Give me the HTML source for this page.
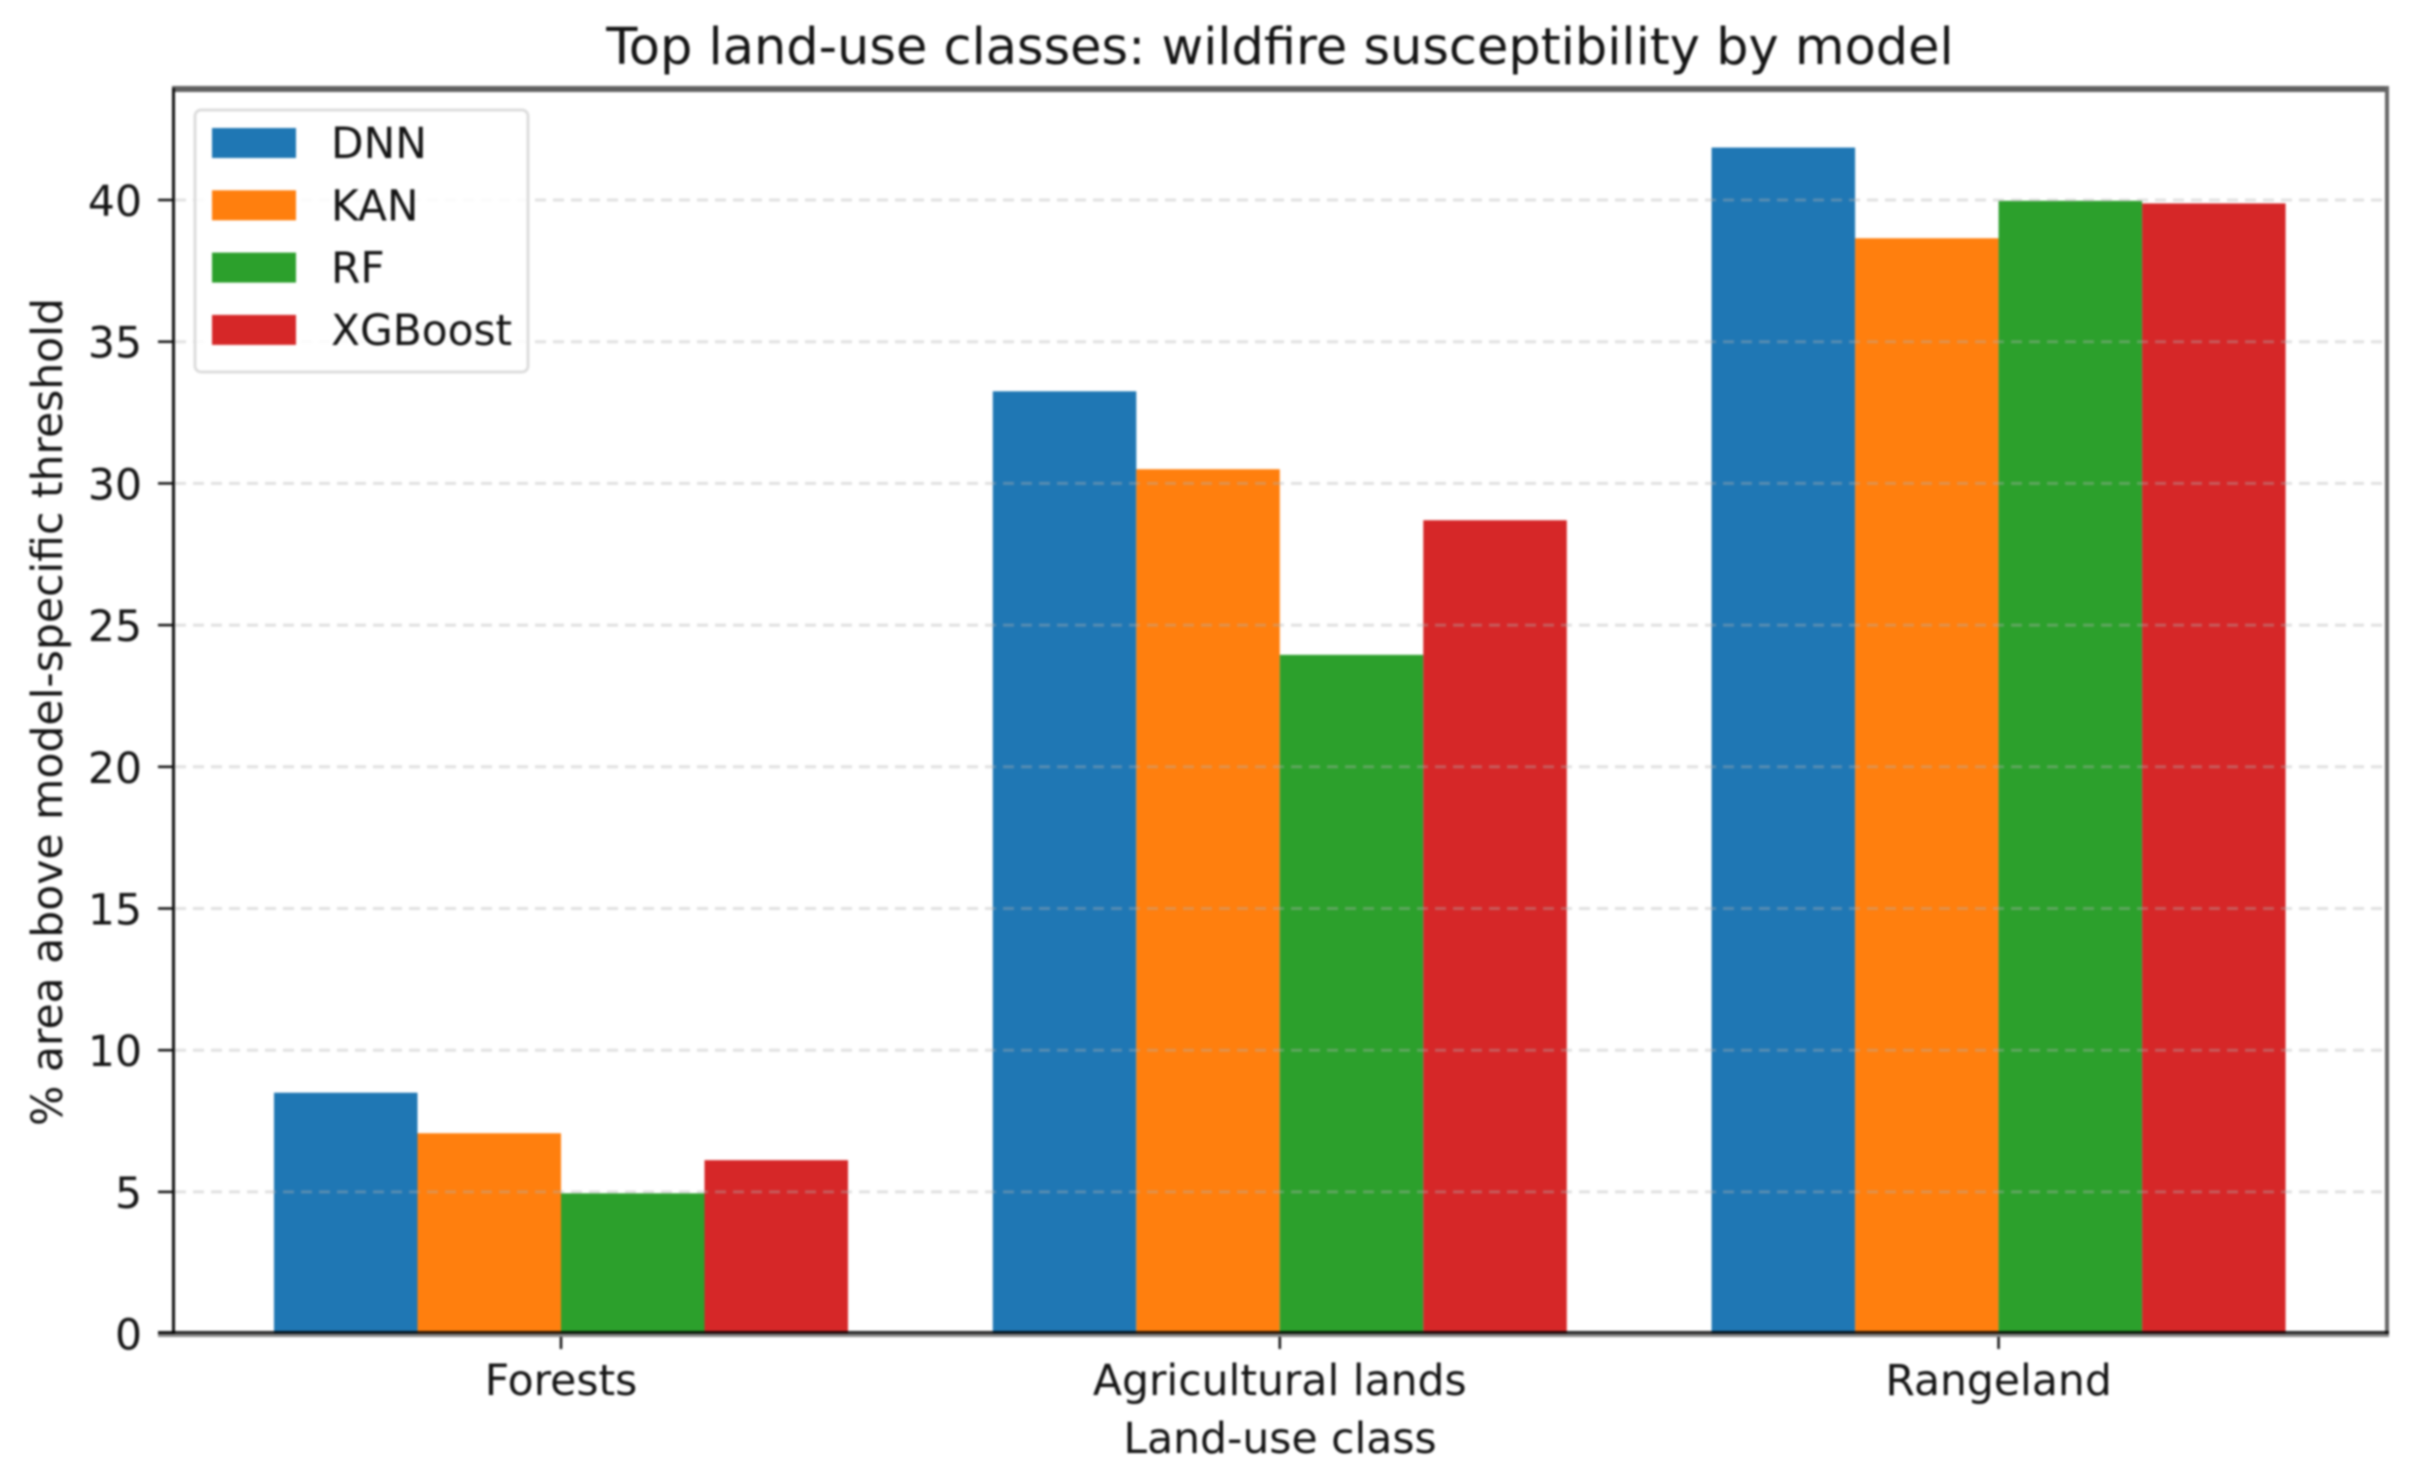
<!DOCTYPE html>
<html lang="en">
<head>
<meta charset="utf-8">
<title>Top land-use classes: wildfire susceptibility by model</title>
<style>
html,body{margin:0;padding:0;background:#fff;width:2426px;height:1473px;overflow:hidden}
#chart{display:block;width:2426px;height:1473px;filter:blur(1.1px)}
text{font-family:"DejaVu Sans","Liberation Sans",sans-serif;fill:#141414}
</style>
</head>
<body>
<svg id="chart" xmlns="http://www.w3.org/2000/svg" width="2426" height="1473" viewBox="0 0 2426 1473">
  <rect x="0" y="0" width="2426" height="1473" fill="#ffffff"/>
  <text x="1280" y="64" font-size="51" text-anchor="middle">Top land-use classes: wildfire susceptibility by model</text>
  <g id="bars"></g>
  <g id="grid"></g>
  <g id="ticks"></g>
  <g id="spines">
    <rect x="172" y="86" width="2217" height="6" fill="#606060"/>
    <rect x="2385" y="86" width="4" height="1251" fill="#666666"/>
    <rect x="172" y="88" width="3" height="1248" fill="#111111"/>
    <rect x="158" y="1334" width="2231" height="3" fill="#888888"/>
    <rect x="158" y="1331" width="2231" height="3" fill="#000000" fill-opacity="0.85"/>
  </g>
  <g id="legend">
    <rect x="195" y="110" width="333" height="262" rx="6" ry="6" fill="#ffffff" fill-opacity="0.85" stroke="#dddddd" stroke-width="3"/>
  </g>
  <text x="1280" y="1453" font-size="42.5" text-anchor="middle">Land-use class</text>
  <text x="62" y="712" font-size="42.5" text-anchor="middle" transform="rotate(-90 62 712)">% area above model-specific threshold</text>
</svg>
<script>
const categories = ['Forests', 'Agricultural lands', 'Rangeland'];
const seriesNames = ['DNN', 'KAN', 'RF', 'XGBoost'];
const dnnValues = [8.5, 33.25, 41.85];
const kanValues = [7.07, 30.5, 38.65];
const rfValues = [4.95, 23.95, 39.97];
const xgboostValues = [6.12, 28.7, 39.88];
const yTickLabels = [0, 5, 10, 15, 20, 25, 30, 35, 40];

const seriesValues = [dnnValues, kanValues, rfValues, xgboostValues];
const seriesColors = ['#1f77b4', '#ff7f0e', '#2ca02c', '#d62728'];
const NS = 'http://www.w3.org/2000/svg';

function xCenter(i) { return 561 + i * 718.8; }
function yScale(v) { return 1333.6 - v * 28.34; }
const barWidth = 143.5;

function make(tag, parent) {
  const el = document.createElementNS(NS, tag);
  parent.appendChild(el);
  return el;
}

const barsG = document.getElementById('bars');
const gridG = document.getElementById('grid');
const ticksG = document.getElementById('ticks');
const legendG = document.getElementById('legend');

seriesValues.forEach(function (vals, s) {
  vals.forEach(function (v, c) {
    const bar = make('rect', barsG);
    
    
    bar.setAttribute('x', xCenter(c) + (s - 2) * barWidth);
    bar.setAttribute('y', yScale(v));
    bar.setAttribute('width', barWidth);
    bar.setAttribute('height', yScale(0) - yScale(v));
    bar.setAttribute('fill', seriesColors[s]);
  });
});

yTickLabels.forEach(function (t) {
  const y = yScale(t);
  if (t > 0) {
    const line = make('line', gridG);
    
    
    line.setAttribute('x1', 175);
    line.setAttribute('x2', 2385);
    line.setAttribute('y1', y);
    line.setAttribute('y2', y);
    line.setAttribute('stroke', '#b0b0b0');
    line.setAttribute('stroke-opacity', '0.38');
    line.setAttribute('stroke-width', '3');
    line.setAttribute('stroke-dasharray', '11 7');
  }
  const tick = make('line', ticksG);
  
  
  tick.setAttribute('x1', 158);
  tick.setAttribute('x2', 173);
  tick.setAttribute('y1', y);
  tick.setAttribute('y2', y);
  tick.setAttribute('stroke', '#111111');
  tick.setAttribute('stroke-width', '2.5');
  const label = make('text', ticksG);
  
  
  label.setAttribute('x', 142);
  label.setAttribute('y', y + 16);
  label.setAttribute('font-size', '42.5');
  label.setAttribute('text-anchor', 'end');
  label.textContent = t;
});

categories.forEach(function (name, c) {
  const x = xCenter(c);
  const tick = make('line', ticksG);
  
  
  tick.setAttribute('x1', x);
  tick.setAttribute('x2', x);
  tick.setAttribute('y1', 1335);
  tick.setAttribute('y2', 1349);
  tick.setAttribute('stroke', '#111111');
  tick.setAttribute('stroke-width', '2.5');
  const label = make('text', ticksG);
  
  
  label.setAttribute('x', x);
  label.setAttribute('y', 1395);
  label.setAttribute('font-size', '42.5');
  label.setAttribute('text-anchor', 'middle');
  label.textContent = name;
});

seriesNames.forEach(function (name, s) {
  const rowTop = 128 + s * 62.3;
  const swatch = make('rect', legendG);
  
  
  swatch.setAttribute('x', 212);
  swatch.setAttribute('y', rowTop);
  swatch.setAttribute('width', 84);
  swatch.setAttribute('height', 30);
  swatch.setAttribute('fill', seriesColors[s]);
  const label = make('text', legendG);
  
  
  label.setAttribute('x', 331);
  label.setAttribute('y', rowTop + 30);
  label.setAttribute('font-size', '42.3');
  label.textContent = name;
});
</script>
</body>
</html>
